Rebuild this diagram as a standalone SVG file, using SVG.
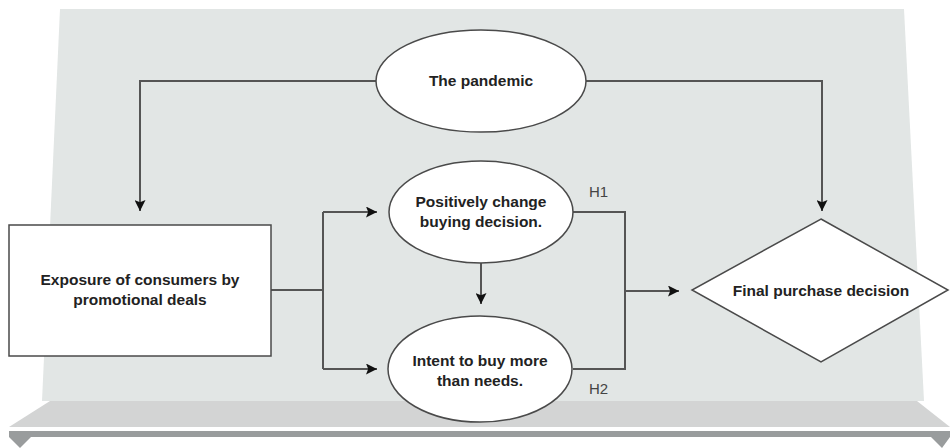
<svg xmlns="http://www.w3.org/2000/svg" width="950" height="448" viewBox="0 0 950 448">
<defs>
<style>
.node{fill:#ffffff;stroke:#4a4a4a;stroke-width:1.5}
.lbl{font-family:"Liberation Sans",Arial,sans-serif;font-size:15.5px;font-weight:bold;fill:#222;text-anchor:middle}
.h{font-family:"Liberation Sans",Arial,sans-serif;font-size:15px;fill:#444;text-anchor:start}
.con{fill:none;stroke:#555;stroke-width:2}
</style>
<marker id="arr" viewBox="0 0 10 10" refX="10" refY="5" markerWidth="11" markerHeight="11" markerUnits="userSpaceOnUse" orient="auto">
<path d="M0,0 L10,5 L0,10 L2,5 Z" fill="#111"/>
</marker>
</defs>
<g id="background">
<polygon points="60,9 904,9 924,401 42,401" fill="#E2E6E5"/>
<polygon points="50,401 917,401 950,427 9,427" fill="#D3D4D4"/>
<rect x="9" y="431" width="941" height="6" fill="#999C9D"/>
<polygon points="9,437 31,437 20,448" fill="#999C9D"/>
<polygon points="931,437 950,437 942,448" fill="#999C9D"/>
</g>
<g id="connectors">
<path class="con" d="M376,81 H140 V211" marker-end="url(#arr)"/>
<path class="con" d="M586,81 H822 V211" marker-end="url(#arr)"/>
<path class="con" d="M271,290 H323"/>
<path class="con" d="M323,212 V369"/>
<path class="con" d="M323,212 H377" marker-end="url(#arr)"/>
<path class="con" d="M323,369 H377" marker-end="url(#arr)"/>
<path class="con" d="M481,263 V304" marker-end="url(#arr)"/>
<path class="con" d="M573,212 H625 V369 H573"/>
<path class="con" d="M625,291 H679" marker-end="url(#arr)"/>
</g>
<g id="pandemic">
<ellipse class="node" cx="481" cy="81" rx="105" ry="51"/>
<text class="lbl" x="481" y="86">The pandemic</text>
</g>
<g id="exposure">
<rect class="node" x="9" y="225" width="262" height="131"/>
<text class="lbl" x="140" y="285">Exposure of consumers by</text>
<text class="lbl" x="140" y="305">promotional deals</text>
</g>
<g id="positive">
<ellipse class="node" cx="481" cy="212" rx="92" ry="51"/>
<text class="lbl" x="481" y="207">Positively change</text>
<text class="lbl" x="481" y="227">buying decision.</text>
</g>
<g id="intent">
<ellipse class="node" cx="480" cy="369" rx="92" ry="53"/>
<text class="lbl" x="480" y="366">Intent to buy more</text>
<text class="lbl" x="480" y="386">than needs.</text>
</g>
<g id="final">
<polygon class="node" points="821,219 948,290 821,362 692,290"/>
<text class="lbl" x="821" y="296">Final purchase decision</text>
</g>
<g id="labels">
<text class="h" x="589" y="197">H1</text>
<text class="h" x="589" y="394">H2</text>
</g>
</svg>
